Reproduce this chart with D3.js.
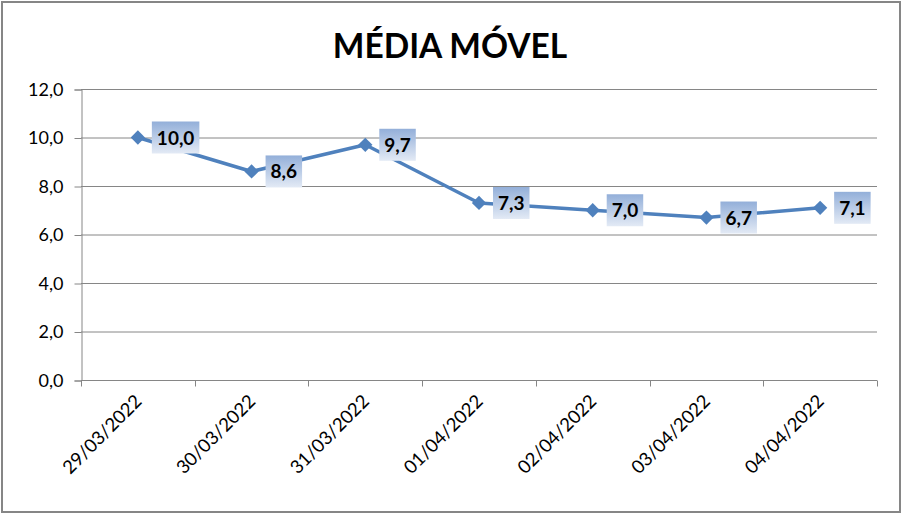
<!DOCTYPE html>
<html><head><meta charset="utf-8">
<script src="https://cdn.jsdelivr.net/npm/d3@7/dist/d3.min.js"></script>
<style>body{margin:0;background:#fff}svg{display:block}</style>
</head><body>
<script>
const title = "MÉDIA MÓVEL";
const categories = ["29/03/2022","30/03/2022","31/03/2022","01/04/2022","02/04/2022","03/04/2022","04/04/2022"];
const values = [10.0, 8.6, 9.7, 7.3, 7.0, 6.7, 7.1];
const yTicks = [0, 2, 4, 6, 8, 10, 12];

const W = 902, H = 514;
const font = "Lato, 'Open Sans', sans-serif";
const svg = d3.select("body").append("svg").attr("width", W).attr("height", H);

const defs = svg.append("defs");
const grad = defs.append("linearGradient").attr("id","lbl").attr("x1",0).attr("y1",0).attr("x2",0).attr("y2",1);
grad.append("stop").attr("offset","0%").attr("stop-color","#93afd9");
grad.append("stop").attr("offset","100%").attr("stop-color","#e3eaf5");

svg.append("rect").attr("x",2).attr("y",2).attr("width",W-4).attr("height",H-4)
  .attr("fill","#fff").attr("stroke","#868686").attr("stroke-width",2);

svg.append("text").attr("x",450).attr("y",58).attr("text-anchor","middle")
  .attr("font-family",font).attr("font-weight","bold").attr("font-size",33.5).attr("fill","#000")
  .text(title);

const x0 = 81, x1 = 877, yTop = 89, yBot = 380;
const x = d3.scaleBand().domain(categories).range([x0, x1]);
const y = d3.scaleLinear().domain([0, 12]).range([yBot, yTop]);

const g = svg.append("g");
g.selectAll(".grid").data(yTicks.filter(d=>d>0)).join("line")
  .attr("x1",x0).attr("x2",x1).attr("y1",d=>y(d)+0.5).attr("y2",d=>y(d)+0.5)
  .attr("stroke","#868686").attr("stroke-width",1);

const yAxis = d3.axisLeft(y).tickValues(yTicks).tickSize(7).tickPadding(11)
  .tickFormat(d => d3.format(".1f")(d).replace(".", ","));
const ya = svg.append("g").attr("transform",`translate(${x0+0.5},0.5)`).call(yAxis);
ya.select(".domain").attr("stroke","#868686");
ya.selectAll(".tick line").attr("stroke","#868686");
ya.selectAll("text").attr("font-family",font).attr("font-size",18).attr("fill","#000");

const xa = svg.append("g").attr("transform",`translate(0,${yBot+0.5})`);
xa.append("line").attr("x1",x0).attr("x2",x1).attr("stroke","#868686");
const bounds = categories.map(c => x(c)).concat([x1]);
xa.selectAll(".xt").data(bounds).join("line")
  .attr("x1",d=>Math.round(d)+0.5).attr("x2",d=>Math.round(d)+0.5).attr("y1",0).attr("y2",6)
  .attr("stroke","#868686");
xa.selectAll(".xl").data(categories).join("text")
  .attr("transform", d => `translate(${x(d)+x.bandwidth()/2+5},${22}) rotate(-45)`)
  .attr("text-anchor","end").attr("font-family",font).attr("font-size",18.5).attr("fill","#000")
  .text(d => d);

const line = d3.line().x((d,i)=>x(categories[i])+x.bandwidth()/2).y(d=>y(d));
svg.append("path").datum(values).attr("d",line).attr("fill","none")
  .attr("stroke","#4f81bd").attr("stroke-width",3.5).attr("stroke-linejoin","round");

svg.selectAll(".mk").data(values).join("path")
  .attr("transform",(d,i)=>`translate(${x(categories[i])+x.bandwidth()/2},${y(d)})`)
  .attr("d", d3.symbol().type(d3.symbolDiamond2).size(130))
  .attr("fill","#4f81bd");

const lbl = svg.selectAll(".lb").data(values).join("g")
  .attr("transform",(d,i)=>`translate(${x(categories[i])+x.bandwidth()/2+14},${y(d)})`);
lbl.each(function(d){
  const gg = d3.select(this);
  const txt = d3.format(".1f")(d).replace(".", ",");
  const t = gg.append("text").attr("x",5).attr("y",7).attr("font-family",font).attr("font-weight","bold")
    .attr("font-size",19).attr("fill","#000").text(txt);
  const w = t.node().getComputedTextLength();
  gg.insert("rect","text").attr("x",0).attr("y",-16).attr("width",w+10).attr("height",32).attr("fill","url(#lbl)");
});
</script>
</body></html>
